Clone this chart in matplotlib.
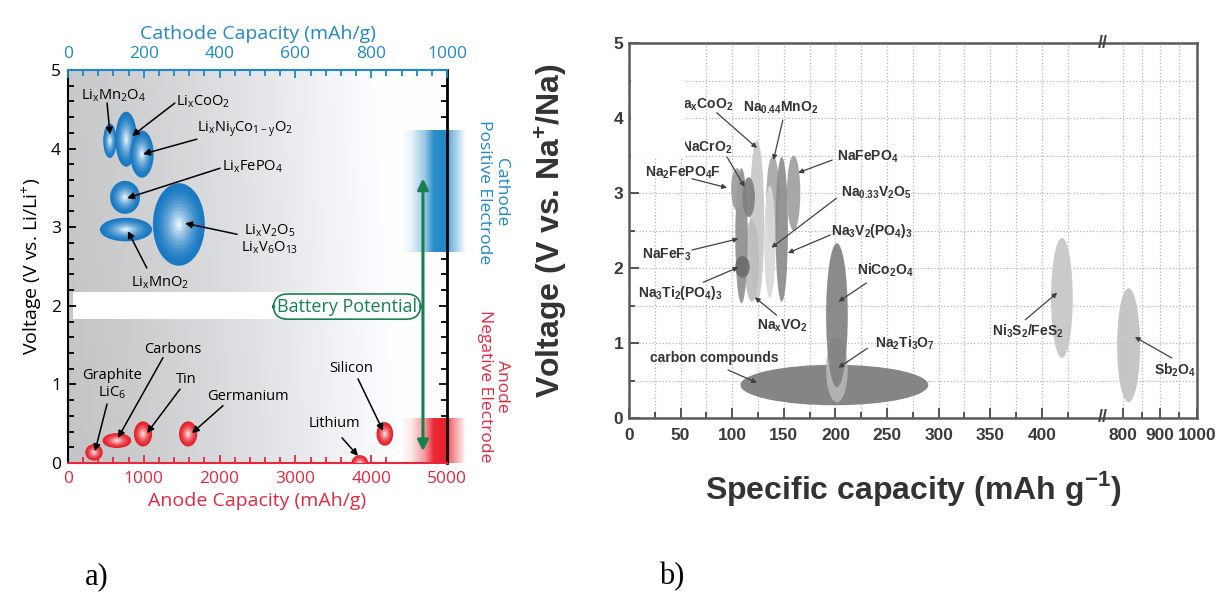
import re
import numpy as np
import matplotlib
matplotlib.use('Agg')
import matplotlib.pyplot as plt
from matplotlib.patches import Ellipse, Rectangle
from matplotlib.colors import to_rgb

# === DATA: panel a (Li-ion) ===
cathode_names = ['Li_xMn_2O_4', 'Li_xCoO_2', 'Li_xNi_yCo_{1-y}O_2', 'Li_xFePO_4',
                 'Li_xV_2O_5\nLi_xV_6O_{13}', 'Li_xMnO_2']
cathode_cap_lo = [93, 125, 164, 111, 224, 84]      # mAh/g (cathode axis)
cathode_cap_hi = [128, 182, 226, 190, 361, 222]
cathode_v_lo = [3.88, 3.77, 3.63, 3.17, 2.51, 2.82]
cathode_v_hi = [4.32, 4.47, 4.23, 3.59, 3.56, 3.12]

anode_names = ['Graphite\nLiC_6', 'Carbons', 'Tin', 'Germanium', 'Lithium', 'Silicon']
anode_cap_lo = [228, 455, 870, 1465, 3740, 4070]    # mAh/g (anode axis)
anode_cap_hi = [458, 835, 1110, 1705, 3960, 4290]
anode_v_lo = [0.03, 0.19, 0.21, 0.21, -0.10, 0.22]
anode_v_hi = [0.24, 0.38, 0.53, 0.53, 0.10, 0.52]

# === DATA: panel b (Na-ion) ===
na_names = ['Na_xCoO_2', 'Na_xVO_2', 'NaFeF_3', 'Na_2FePO_4F', 'NaCrO_2', 'Na_3Ti_2(PO_4)_3',
            'Na_{0.44}MnO_2', 'Na_{0.33}V_2O_5', 'Na_3V_2(PO_4)_3', 'NaFePO_4',
            'carbon compounds', 'Na_2Ti_3O_7', 'NiCo_2O_4', 'Ni_3S_2/FeS_2', 'Sb_2O_4']
na_cap_lo = [117, 112, 103, 99, 110, 103, 133, 131, 142, 153, 108, 191, 191, 409, 784]
na_cap_hi = [131, 126, 115, 110, 122, 117, 146, 142, 154, 166, 290, 212, 212, 430, 846]
na_v_lo = [1.55, 1.55, 1.53, 2.77, 2.68, 1.87, 2.30, 1.60, 1.55, 2.50, 0.17, 0.21, 0.41, 0.80, 0.21]
na_v_hi = [3.70, 2.65, 3.33, 3.33, 3.21, 2.16, 3.50, 3.10, 3.48, 3.50, 0.71, 1.08, 2.33, 2.40, 1.73]

na_ticks = [0, 50, 100, 150, 200, 250, 300, 350, 400, 800, 900, 1000]

# label layout (text position, arrow start, arrow end)
cathode_text = [(119, 4.67), (356, 4.60), (467, 4.25), (488, 3.77), (533, 2.85), (243, 2.29)]
cathode_from = [(103, 4.58), (282, 4.58), (340, 4.12), (401, 3.75), (446, 2.91), (208, 2.48)]
cathode_to = [(111, 4.18), (169, 4.16), (198, 3.93), (156, 3.37), (309, 3.05), (158, 2.95)]

anode_text = [(580, 1.0), (1385, 1.44), (1557, 1.06), (2375, 0.85), (3509, 0.50), (3733, 1.20)]
anode_from = [(515, 0.75), (1253, 1.34), (1478, 0.94), (2045, 0.73), (3615, 0.32), (3826, 1.07)]
anode_to = [(356, 0.15), (660, 0.32), (1042, 0.38), (1636, 0.38), (3826, 0.09), (4156, 0.41)]

na_text = [(101, 4.17), (149, 1.23), (37, 2.17), (52, 3.27), (100, 3.60), (50, 1.67),
           (147, 4.13), (240, 3.00), (235, 2.50), (231, 3.48), (83, 0.80), (267, 1.00),
           (248, 1.97), (386, 1.15), (941, 0.64)]
na_from = [(85, 4.07), (143, 1.37), (61, 2.24), (61, 3.19), (95, 3.48), (72, 1.81),
           (149, 3.97), (201, 2.93), (195, 2.44), (197, 3.44), (96, 0.64), (231, 0.93),
           (230, 1.80), (384, 1.31), (932, 0.80)]
na_to = [(124, 3.60), (122, 1.61), (106, 2.39), (95, 3.07), (112, 3.08), (106, 2.01),
         (140, 3.44), (138, 2.27), (154, 2.20), (164, 3.27), (124, 0.47), (203, 0.67),
         (203, 1.55), (415, 1.67), (832, 1.08)]
na_ha = ['right', 'center', 'center', 'center', 'right', 'center', 'center', 'center',
         'center', 'center', 'center', 'center', 'center', 'center', 'center']
na_shades = ['#c8c8c8', '#bdbdbd', '#8f8f8f', '#9c9c9c', '#7e7e7e', '#6c6c6c', '#a6a6a6',
             '#d9d9d9', '#8c8c8c', '#a0a0a0', '#7b7b7b', '#b5b5b5', '#818181', '#c6c6c6', '#c2c2c2']

BLUE = '#1f88c6'
RED = '#e5283f'
GREEN = '#16804e'


def chem(s):
    # Li_xMn_2O_4 -> mathtext subscripts in the text's own font
    return re.sub(r'_\{([^}]*)\}|_(\w)',
                  lambda m: r'$_{\mathregular{%s}}$' % (m.group(1) or m.group(2)), s)


def mix(c1, c2, t):
    a, b = np.array(to_rgb(c1)), np.array(to_rgb(c2))
    return tuple(a + (b - a) * t)


def shaded_ellipse(ax, lo, hi, vlo, vhi, edge, center, z, n=12):
    cx, cy = (lo + hi) / 2, (vlo + vhi) / 2
    w, h = hi - lo, vhi - vlo
    for i in range(n):
        f = 1 - i / n
        ax.add_patch(Ellipse((cx, cy), w * f, h * f, fc=mix(edge, center, (i / (n - 1)) ** 1.6),
                             ec='none', zorder=z))


plt.rcParams['font.family'] = 'Open Sans'

fig = plt.figure(figsize=(12.26, 5.99), dpi=100)

# ================= PANEL A =================
axa = fig.add_axes([68 / 1226, 1 - 463 / 599, 379 / 1226, 393 / 599])
axt = axa.twiny()

# background gradient (style only)
gx = np.linspace(0, 1, 300)
gy = np.linspace(0, 1, 150)[:, None]
val = 0.77 + 0.23 * np.clip(gx / 0.88, 0, 1) ** 1.3 + 0.02 * gy
val = np.clip(val, 0, 1)
bg = np.clip(np.dstack([val * 0.995, val, val * 1.01]), 0, 1)
axa.imshow(bg, extent=(0, 5000, 0, 5), aspect='auto', origin='lower', zorder=0)
axa.axhspan(1.83, 2.17, xmin=0.012, color='white', zorder=1, lw=0)

# electrode ranges on the right edge
bx = np.linspace(4390, 5240, 300)
alpha = np.interp(bx, [4390, 4520, 4700, 4820, 5000, 5030, 5240], [0, 0.1, 0.45, 0.95, 1, 0.65, 0])
for col, y0, y1 in [(BLUE, 2.68, 4.23), ('#e81e2a', 0.0, 0.57)]:
    c = np.array(to_rgb(col))
    img = np.ones((2, len(bx), 3)) * (1 - alpha[None, :, None]) + c * alpha[None, :, None]
    axa.imshow(img, extent=(4390, 5240, y0, y1), aspect='auto', origin='lower',
               zorder=2, clip_on=False, interpolation='bilinear')

for i in range(len(anode_names)):
    shaded_ellipse(axa, anode_cap_lo[i], anode_cap_hi[i], anode_v_lo[i], anode_v_hi[i],
                   '#e3222c', '#ffe2e2', 3)
    axa.text(*anode_text[i], chem(anode_names[i]), ha='center', va='center', fontsize=10.5,
             zorder=4, linespacing=1.15)
    axa.annotate('', xy=anode_to[i], xytext=anode_from[i], zorder=4,
                 arrowprops=dict(arrowstyle='-|>', color='black', lw=1.1, mutation_scale=10,
                                 shrinkA=0, shrinkB=0))

for i in range(len(cathode_names)):
    shaded_ellipse(axt, cathode_cap_lo[i], cathode_cap_hi[i], cathode_v_lo[i], cathode_v_hi[i],
                   '#1a79c1', '#e2f1fc', 3)
    axt.text(*cathode_text[i], chem(cathode_names[i]), ha='center', va='center', fontsize=10.5,
             zorder=4, linespacing=1.0)
    axt.annotate('', xy=cathode_to[i], xytext=cathode_from[i], zorder=4,
                 arrowprops=dict(arrowstyle='-|>', color='black', lw=1.1, mutation_scale=10,
                                 shrinkA=0, shrinkB=0))

# battery potential arrow
axa.annotate('', xy=(4683, 0.15), xytext=(4683, 3.62), zorder=6,
             arrowprops=dict(arrowstyle='<|-|>', color=GREEN, lw=2.2, mutation_scale=16,
                             shrinkA=0, shrinkB=0))
axa.text(3681, 1.99, 'Battery Potential', color=GREEN, fontsize=13, ha='center', va='center',
         zorder=7, bbox=dict(boxstyle='round,pad=0.2,rounding_size=0.8', fc='white', ec=GREEN, lw=1.2))

axa.text(5600, 3.45, 'Cathode\nPositive Electrode', rotation=270, ha='center', va='center',
         color=BLUE, fontsize=12.5, linespacing=1.05, clip_on=False)
axa.text(5610, 0.98, 'Anode\nNegative Electrode', rotation=270, ha='center', va='center',
         color=RED, fontsize=12.5, linespacing=1.05, clip_on=False)

axa.set_xlim(0, 5000)
axa.set_ylim(0, 5)
axt.set_xlim(0, 1000)
axa.set_xticks(range(0, 5001, 1000))
axa.set_xticks(range(0, 5001, 200), minor=True)
axa.set_yticks(range(0, 6))
axa.set_yticks(np.arange(0, 5.01, 0.2), minor=True)
axt.set_xticks(range(0, 1001, 200))
axt.set_xticks(range(0, 1001, 40), minor=True)

axa.tick_params(axis='x', which='both', colors=RED, direction='in', width=1.3, labelsize=12.5, pad=6)
axa.tick_params(axis='x', which='major', length=6)
axa.tick_params(axis='x', which='minor', length=4)
axa.tick_params(axis='y', which='both', direction='in', right=True, width=1.3, labelsize=12.5, pad=5)
axa.tick_params(axis='y', which='major', length=6)
axa.tick_params(axis='y', which='minor', length=4)
axt.tick_params(axis='x', which='both', colors=BLUE, direction='in', width=1.3, labelsize=12.5, pad=6)
axt.tick_params(axis='x', which='major', length=6)
axt.tick_params(axis='x', which='minor', length=4)

axa.spines['top'].set_visible(False)
axa.spines['bottom'].set_color(RED)
axa.spines['left'].set_linewidth(1.5)
axa.spines['right'].set_linewidth(2)
axa.spines['bottom'].set_linewidth(1.5)
for s in ['left', 'right', 'bottom']:
    axt.spines[s].set_visible(False)
axt.spines['top'].set_color(BLUE)
axt.spines['top'].set_linewidth(1.5)

axa.set_xlabel('Anode Capacity (mAh/g)', color=RED, fontsize=14, labelpad=3)
axt.set_xlabel('Cathode Capacity (mAh/g)', color=BLUE, fontsize=14, labelpad=5)
axa.set_ylabel('Voltage (V vs. Li/Li$^{\\mathregular{+}}$)', fontsize=14, labelpad=4)

# ================= PANEL B =================
axb = fig.add_axes([629 / 1226, 1 - 418 / 599, 568 / 1226, 375 / 599])

real_knots = [0, 450, 740, 1000]
u_knots = [0, 450, 457.2, 550.4]


def fwd(x):
    return np.interp(x, real_knots, u_knots)


def inv(u):
    return np.interp(u, u_knots, real_knots)


axb.set_xscale('function', functions=(fwd, inv))
axb.set_xlim(0, 1000)
axb.set_ylim(0, 5)
axb.set_axisbelow(True)

for i in range(len(na_names)):
    lo, hi, vlo, vhi = na_cap_lo[i], na_cap_hi[i], na_v_lo[i], na_v_hi[i]
    axb.add_patch(Ellipse(((lo + hi) / 2, (vlo + vhi) / 2), hi - lo, vhi - vlo,
                          fc=na_shades[i], ec='none', alpha=0.92, zorder=2))
    axb.text(*na_text[i], chem(na_names[i]), ha=na_ha[i], va='center', fontsize=10,
             fontweight='bold', family='Liberation Sans', color='#333333', zorder=4)
    axb.annotate('', xy=na_to[i], xytext=na_from[i], zorder=4,
                 arrowprops=dict(arrowstyle='-|>', color='#404040', lw=0.9, mutation_scale=7,
                                 shrinkA=0, shrinkB=0))

# white patch covering the top-left corner
axb.add_patch(Rectangle((1.5, 3.48), 52.5, 1.5, fc='white', ec='none', zorder=6))

axb.set_xticks(na_ticks, [str(t) for t in na_ticks], fontsize=12.5, fontweight='bold',
               family='Liberation Sans')
axb.set_xticks(list(range(25, 426, 50)) + [850, 950], minor=True)
axb.set_yticks(range(0, 6), [str(t) for t in range(0, 6)], fontsize=12.5, fontweight='bold',
               family='Liberation Sans')
axb.set_yticks(np.arange(0.5, 5, 1.0), minor=True)
axb.grid(which='both', linestyle=':', color='#b5b5b5', lw=0.9)
axb.tick_params(which='both', direction='in', colors='#3a3a3a', width=1.2)
axb.tick_params(which='major', length=7, pad=7)
axb.tick_params(which='minor', length=4)
axb.tick_params(axis='y', pad=4)
for s in axb.spines.values():
    s.set_color('#5a5a5a')
    s.set_linewidth(1.8)
    s.set_zorder(7)

for yy in (0, 1):
    axb.text(745, yy, '//', transform=axb.get_xaxis_transform(), ha='center', va='center',
             fontsize=13, fontweight='bold', family='Liberation Sans', color='#444444',
             clip_on=False, zorder=8)

axb.set_ylabel('Voltage (V vs. Na$^{\\mathregular{+}}$/Na)', fontsize=23, fontweight='bold',
               family='Liberation Sans', color='#333333')
axb.yaxis.set_label_coords(-0.105, 0.5)
axb.set_xlabel('Specific capacity (mAh g$^{\\mathregular{-1}}$)', fontsize=23, fontweight='bold',
               family='Liberation Sans', color='#333333')
axb.xaxis.set_label_coords(0.5, -0.135)

fig.text(97 / 1226, 1 - 577 / 599, 'a)', fontsize=22, family='Liberation Serif', ha='center', va='center')
fig.text(672 / 1226, 1 - 577 / 599, 'b)', fontsize=22, family='Liberation Serif', ha='center', va='center')

fig.savefig('out.png', dpi=100)
